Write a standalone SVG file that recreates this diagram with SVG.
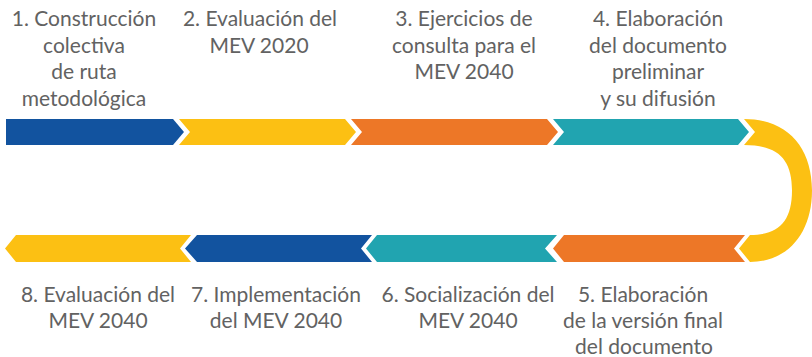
<svg xmlns="http://www.w3.org/2000/svg" width="812" height="357" viewBox="0 0 812 357">
<style>
.t{font-family:Lato,"Open Sans","Liberation Sans",sans-serif;font-size:21px;fill:#626262;text-anchor:middle}
.blue{fill:#12539f}.yellow{fill:#fcc013}.orange{fill:#ed7727}.teal{fill:#21a4b0}
</style>
<rect width="812" height="357" fill="#fff"/>
<g id="connectors">
<path id="arc" class="yellow" d="M744 119 C788 119 812 148 812 190.5 C812 233 788 262 750 262 L739 248.5 L750 235 C778 235 792 222 792 190.5 C792 159 778 145 744 145 L755 132 Z"/>
</g>
<g id="step1"><path class="blue" d="M6 119 H173 L184 132 L173 145 H6 Z"/>
<text class="t" x="84" y="26">1. Construcción</text><text class="t" x="84" y="52.5">colectiva</text><text class="t" x="84" y="79">de ruta</text><text class="t" x="84" y="105.5">metodológica</text></g>
<g id="step2"><path class="yellow" d="M179 119 H345 L356 132 L345 145 H179 L190 132 Z"/>
<text class="t" x="260" y="26">2. Evaluación del</text><text class="t" x="259" y="52.5">MEV 2020</text></g>
<g id="step3"><path class="orange" d="M351 119 H547 L558 132 L547 145 H351 L362 132 Z"/>
<text class="t" x="464" y="26">3. Ejercicios de</text><text class="t" x="464" y="52.5">consulta para el</text><text class="t" x="464" y="79">MEV 2040</text></g>
<g id="step4"><path class="teal" d="M553 119 H738 L749 132 L738 145 H553 L564 132 Z"/>
<text class="t" x="658" y="26">4. Elaboración</text><text class="t" x="658" y="52.5">del documento</text><text class="t" x="658" y="79">preliminar</text><text class="t" x="658" y="105.5">y su difusión</text></g>
<g id="step5"><path class="orange" d="M564 235 H745 L734 248.5 L745 262 H564 L553 248.5 Z"/>
<text class="t" x="643" y="301.5">5. Elaboración</text><text class="t" x="643" y="328">de la versión final</text><text class="t" x="644" y="354">del documento</text></g>
<g id="step6"><path class="teal" d="M377 235 H557 L545 248.5 L557 262 H377 L366 248.5 Z"/>
<text class="t" x="468" y="301.5">6. Socialización del</text><text class="t" x="468" y="328">MEV 2040</text></g>
<g id="step7"><path class="blue" d="M197 235 H372 L361 248.5 L372 262 H197 L185 248.5 Z"/>
<text class="t" x="276" y="301.5">7. Implementación</text><text class="t" x="276" y="328">del MEV 2040</text></g>
<g id="step8"><path class="yellow" d="M16 235 H191 L180 248.5 L191 262 H16 L5 248.5 Z"/>
<text class="t" x="98" y="301.5">8. Evaluación del</text><text class="t" x="98" y="328">MEV 2040</text></g>
</svg>
